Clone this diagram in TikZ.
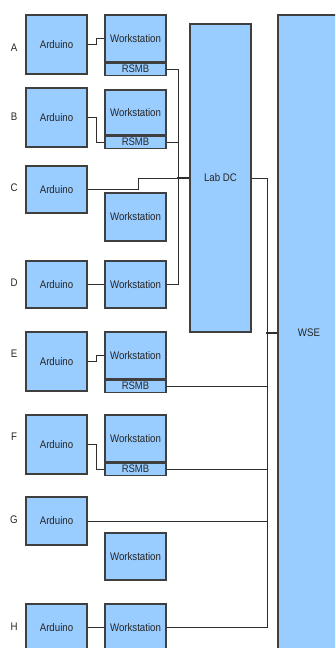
\documentclass[tikz,border=0pt]{standalone}
\usepackage{fontspec}
\setmainfont[FakeStretch=0.88]{Liberation Sans}
\usepackage{tikz}
\usetikzlibrary{positioning}
\definecolor{boxblue}{HTML}{99CCFF}
\definecolor{edgegray}{HTML}{3F3F3F}
\definecolor{wiregray}{HTML}{2E2E2E}

\begin{document}
\begin{tikzpicture}[x=1pt,y=-1pt,
    font=\fontsize{11}{12}\selectfont,
    unit/.style={draw=edgegray,fill=boxblue,line width=1.1pt,inner sep=0pt,
                 minimum width=61pt,text=black!85},
    rsmb/.style={unit,minimum height=12pt,font=\fontsize{10.8}{10}\selectfont},
    wire/.style={draw=wiregray,line width=0.9pt},
    row/.style={text=black!85}]
    \useasboundingbox (0,0) rectangle (335,648);
    \clip (0,0) rectangle (335,648);

    % big boxes
    \node[unit,minimum height=636pt,minimum width=62pt] (wse) at (309,333) {WSE};
    \node[unit,minimum height=308pt] (lab) at (220.5,178) {Lab DC};

    % row labels
    \node[row] at (14,48) {A};
    \node[row] at (14,117) {B};
    \node[row] at (14,188) {C};
    \node[row] at (14,283) {D};
    \node[row] at (14,354) {E};
    \node[row] at (14,437) {F};
    \node[row] at (14,520) {G};
    \node[row] at (14,627) {H};

    % arduinos
    \node[unit,minimum height=59pt] (ardA) at (56.5,44.5) {Arduino};
    \node[unit,minimum height=59pt] (ardB) at (56.5,117.5) {Arduino};
    \node[unit,minimum height=47pt] (ardC) at (56.5,189.5) {Arduino};
    \node[unit,minimum height=47pt] (ardD) at (56.5,284.5) {Arduino};
    \node[unit,minimum height=59pt] (ardE) at (56.5,361.5) {Arduino};
    \node[unit,minimum height=59pt] (ardF) at (56.5,444.5) {Arduino};
    \node[unit,minimum height=48pt] (ardG) at (56.5,521) {Arduino};
    \node[unit,minimum height=47pt] (ardH) at (56.5,627.5) {Arduino};

    % workstations
    \node[unit,minimum height=47pt] (wsA) at (135.5,38.5) {Workstation};
    \node[rsmb,below=0pt of wsA] (rsA) {RSMB};
    \node[unit,minimum height=45pt] (wsB) at (135.5,112.5) {Workstation};
    \node[rsmb,below=0pt of wsB] (rsB) {RSMB};
    \node[unit,minimum height=48pt] (wsC) at (135.5,217) {Workstation};
    \node[unit,minimum height=47pt] (wsD) at (135.5,284.5) {Workstation};
    \node[unit,minimum height=47pt] (wsE) at (135.5,355.5) {Workstation};
    \node[rsmb,below=0pt of wsE] (rsE) {RSMB};
    \node[unit,minimum height=47pt] (wsF) at (135.5,438.5) {Workstation};
    \node[rsmb,below=0pt of wsF] (rsF) {RSMB};
    \node[unit,minimum height=47pt] (wsG) at (135.5,556.5) {Workstation};
    \node[unit,minimum height=47pt] (wsH) at (135.5,627.5) {Workstation};

    % arduino to workstation
    \draw[wire] (ardA.east) -- ++(9,0) |- (wsA.west);
    \draw[wire] (ardB.east) -- ++(9,0) |- (rsB.west);
    \draw[wire] (ardD.east) -- (wsD.west);
    \draw[wire] (ardE.east) -- ++(9,0) |- (wsE.west);
    \draw[wire] (ardF.east) -- ++(9,0) |- (rsF.west);
    \draw[wire] (ardH.east) -- (wsH.west);

    % lab dc side
    \draw[wire] (rsA.east) -- ++(12,0) |- (wsD.east);
    \draw[wire] (rsB.east) -- ++(12,0);
    \draw[wire] (ardC.east) -- ++(51,0) |- (lab.west);
    \draw[wire,line width=1.6pt] (lab.west) -- ++(-12,0);

    % wse side
    \coordinate (busH) at (267,627.5);
    \draw[wire] (lab.east) -| (busH) -- (wsH.east);
    \draw[wire] (rsE.east) -- (rsE.east -| busH);
    \draw[wire] (rsF.east) -- (rsF.east -| busH);
    \draw[wire] (ardG.east) -- (ardG.east -| busH);
    \draw[wire,line width=1.6pt] (wse.west) -- ++(-11,0);
\end{tikzpicture}
\end{document}
